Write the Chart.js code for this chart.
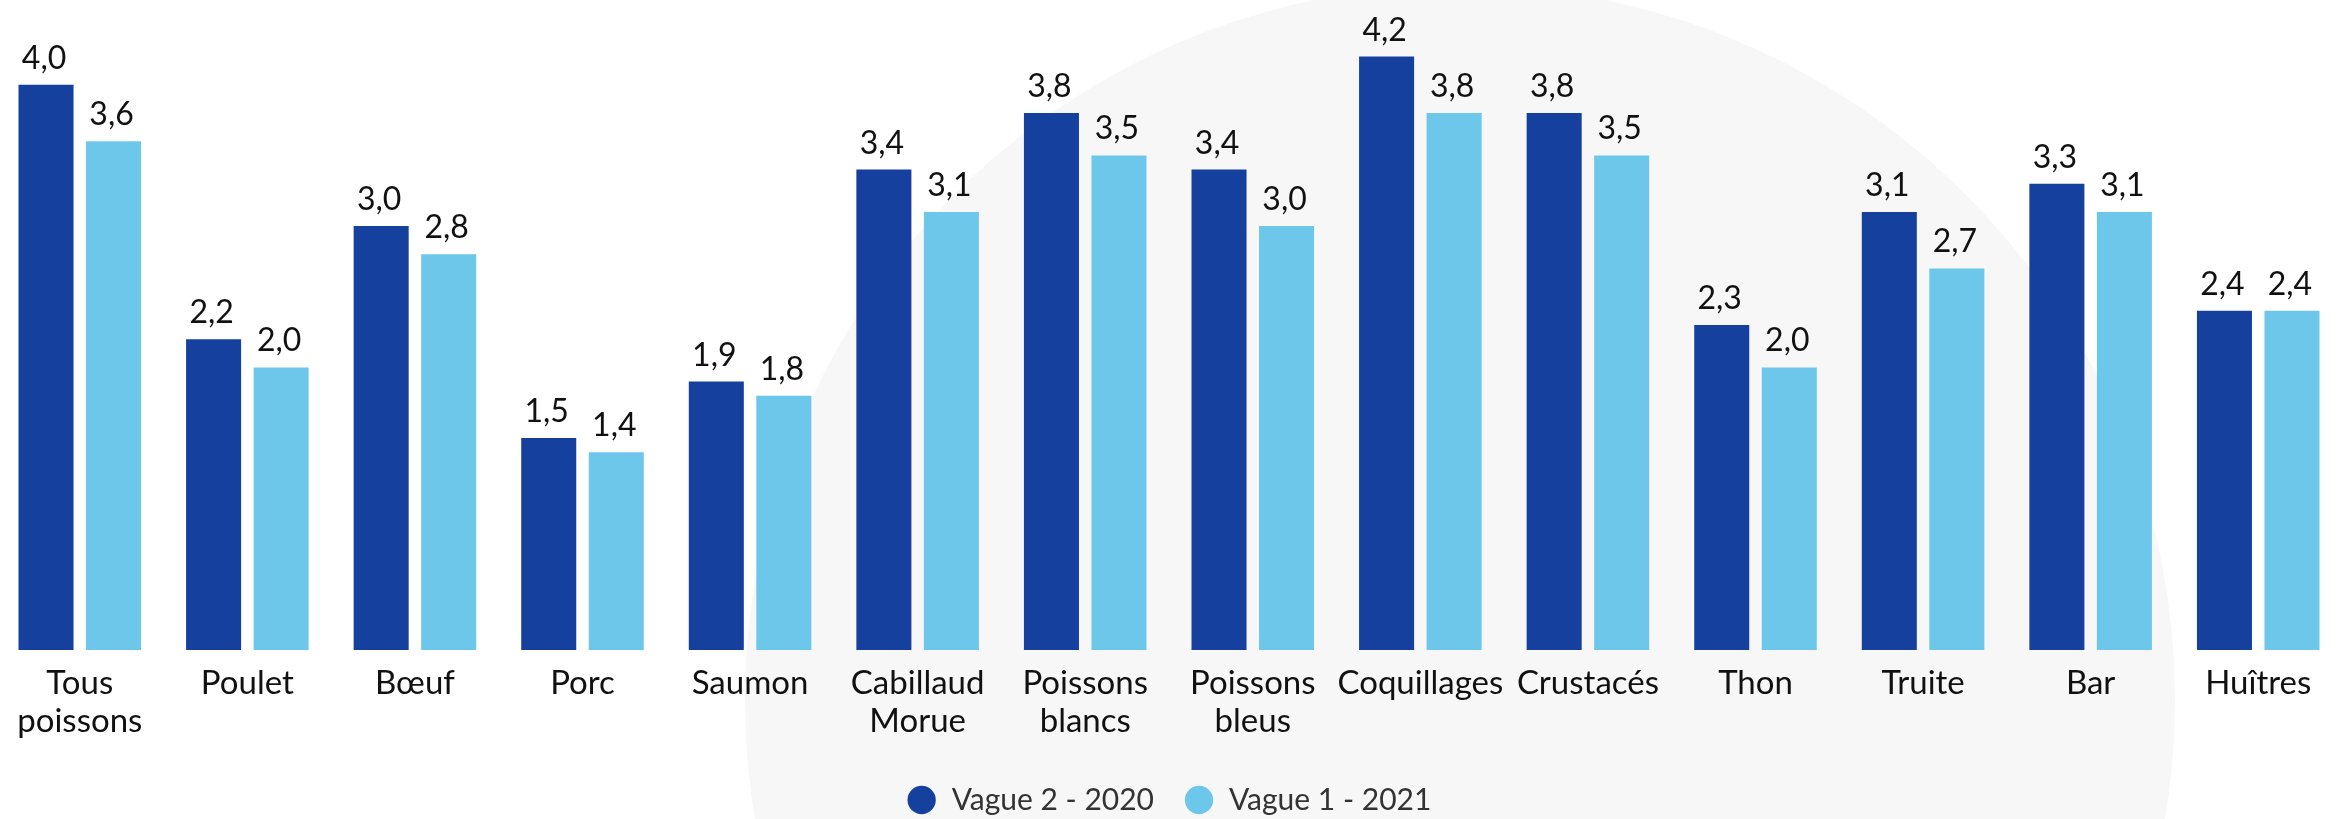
<!DOCTYPE html>
<html>
<head>
<meta charset="utf-8">
<script src="https://cdn.jsdelivr.net/npm/chart.js@4/dist/chart.umd.min.js"></script>
<style>
    html, body { margin: 0; padding: 0; background: #fff; overflow: hidden; }
    #wrap { position: relative; width: 2338px; height: 819px; overflow: hidden; }
    /* watermark behind the chart */
    .mark { position: absolute; left: 745px; top: -15px; width: 1430px; height: 1430px;
            border-radius: 50%; background: #f7f7f7; }
    /* canvas a bit taller than the page: the legend's bottom padding falls outside */
    .box { position: absolute; left: -4px; top: 0; width: 2346px; height: 825px; }
</style>
</head>
<body>
<div id="wrap">
    <div class="mark"></div>
    <div class="box"><canvas id="chart"></canvas></div>
</div>
<script>
const categories = [
    ['Tous', 'poissons'], 'Poulet', 'Bœuf', 'Porc', 'Saumon', ['Cabillaud', 'Morue'],
    ['Poissons', 'blancs'], ['Poissons', 'bleus'], 'Coquillages', 'Crustacés',
    'Thon', 'Truite', 'Bar', 'Huîtres'
];
const vague2_2020 = [4.0, 2.2, 3.0, 1.5, 1.9, 3.4, 3.8, 3.4, 4.2, 3.8, 2.3, 3.1, 3.3, 2.4];
const vague1_2021 = [3.6, 2.0, 2.8, 1.4, 1.8, 3.1, 3.5, 3.0, 3.8, 3.5, 2.0, 2.7, 3.1, 2.4];
const seriesNames = ['Vague 2 - 2020', 'Vague 1 - 2021'];

const FONT = 'Lato, "Noto Sans", sans-serif';

// value labels above each bar
const valueLabels = {
    id: 'valueLabels',
    afterDatasetsDraw(chart) {
        const ctx = chart.ctx;
        ctx.save();
        ctx.font = '32px ' + FONT;
        ctx.fillStyle = '#111';
        ctx.textAlign = 'center';
        ctx.textBaseline = 'alphabetic';
        chart.data.datasets.forEach((ds, i) => {
            chart.getDatasetMeta(i).data.forEach((bar, j) => {
                const txt = ds.data[j].toFixed(1).replace('.', ',');
                ctx.fillText(txt, bar.x - 2, bar.y - 16);
            });
        });
        ctx.restore();
    }
};

new Chart(document.getElementById('chart'), {
    type: 'bar',
    data: {
        labels: categories,
        datasets: [
            {
                label: seriesNames[0],
                data: vague2_2020,
                backgroundColor: '#16409e',
                barPercentage: 0.815,
                categoryPercentage: 0.806
            },
            {
                label: seriesNames[1],
                data: vague1_2021,
                backgroundColor: '#6dc7ea',
                barPercentage: 0.815,
                categoryPercentage: 0.806
            }
        ]
    },
    options: {
        responsive: true,
        maintainAspectRatio: false,
        animation: false,
        layout: { padding: 0 },
        scales: {
            x: {
                grid: { display: false, drawTicks: false },
                border: { display: false },
                ticks: {
                    color: '#111',
                    font: { family: FONT, size: 33, lineHeight: 1.16 },
                    padding: 14,
                    maxRotation: 0,
                    autoSkip: false
                },
                afterFit(scale) { scale.height = 105; }
            },
            y: {
                display: false,
                min: 0,
                max: 4.6
            }
        },
        plugins: {
            legend: {
                position: 'bottom',
                labels: {
                    color: '#333',
                    font: { family: FONT, size: 30 },
                    usePointStyle: true,
                    pointStyle: 'circle',
                    boxHeight: 20,
                    padding: 30
                }
            },
            tooltip: { enabled: false }
        }
    },
    plugins: [valueLabels]
});
</script>
</body>
</html>
